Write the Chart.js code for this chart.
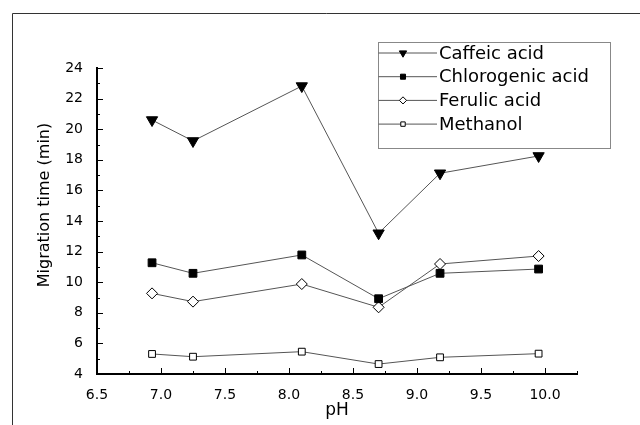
<!DOCTYPE html>
<html>
<head>
<meta charset="utf-8">
<script src="https://cdn.jsdelivr.net/npm/chart.js@4/dist/chart.umd.min.js"></script>
<style>
  body { margin: 0; background: #fff; }
  canvas { display: block; }
</style>
</head>
<body>
<canvas id="graf" width="640" height="425"></canvas>
<script>
// pH-värden (x) och migrationstider (min)
const pH = [6.93, 7.25, 8.1, 8.7, 9.18, 9.95];
const caffeic = [20.6, 19.23, 22.82, 13.2, 17.12, 18.25];
const chlorogenic = [11.27, 10.58, 11.78, 8.92, 10.58, 10.86];
const ferulic = [9.27, 8.73, 9.88, 8.36, 11.19, 11.71];
const methanol = [5.31, 5.13, 5.46, 4.65, 5.09, 5.33];

const xTicks = [6.5, 7.0, 7.5, 8.0, 8.5, 9.0, 9.5, 10.0];
const yTicks = [4, 6, 8, 10, 12, 14, 16, 18, 20, 22, 24];
const yTitle = 'Migration time (min)';

const graf = document.querySelector('#graf');
const font = 'DejaVu Sans';

const pts = arr => arr.map((y, i) => ({ x: pH[i], y }));

function serie(label, data, style, radius, filled, rotation) {
    return {
        label,
        data: pts(data),
        borderColor: '#555',
        borderWidth: 1,
        pointStyle: style,
        pointRadius: radius,
        pointRotation: rotation || 0,
        pointBorderColor: '#000',
        pointBorderWidth: 1,
        pointBackgroundColor: filled ? '#000' : '#fff',
        fill: false,
        tension: 0
    };
}

// Ram, y-titel, tickmarkeringar inåt och legend i rutan
const extras = {
    id: 'extras',
    beforeDraw(chart) {
        const ctx = chart.ctx;
        ctx.save();
        ctx.strokeStyle = '#333';
        ctx.lineWidth = 1;
        ctx.beginPath();
        ctx.moveTo(12.5, 425);
        ctx.lineTo(12.5, 13.5);
        ctx.lineTo(640, 13.5);
        ctx.stroke();

        ctx.translate(45, 205);
        ctx.rotate(-Math.PI / 2);
        ctx.font = '16px "' + font + '"';
        ctx.textAlign = 'center';
        ctx.textBaseline = 'middle';
        ctx.fillStyle = '#000';
        ctx.fillText(yTitle, 0, 0);
        ctx.restore();
    },
    afterDraw(chart) {
        const ctx = chart.ctx;
        const { x, y } = chart.scales;
        const area = chart.chartArea;
        ctx.save();
        ctx.strokeStyle = '#000';
        ctx.lineWidth = 1;
        ctx.beginPath();
        for (let v = 6.5; v <= 10.25 + 1e-9; v += 0.25) {
            const px = Math.round(x.getPixelForValue(v)) + 0.5;
            const major = Math.abs(v * 2 - Math.round(v * 2)) < 1e-9;
            ctx.moveTo(px, area.bottom);
            ctx.lineTo(px, area.bottom - (major ? 6 : 3));
        }
        for (let v = 4; v <= 24; v += 1) {
            const py = Math.round(y.getPixelForValue(v)) + 0.5;
            ctx.moveTo(area.left, py);
            ctx.lineTo(area.left + (v % 2 === 0 ? 6 : 3), py);
        }
        ctx.stroke();

        // Legend
        const box = { left: 378.5, top: 42.5, right: 610.5, bottom: 148.5 };
        ctx.strokeStyle = '#888';
        ctx.strokeRect(box.left, box.top, box.right - box.left, box.bottom - box.top);
        ctx.font = '18px "' + font + '"';
        ctx.textBaseline = 'middle';
        chart.data.datasets.forEach((ds, i) => {
            const ly = 53 + i * 23.7;
            ctx.strokeStyle = '#555';
            ctx.beginPath();
            ctx.moveTo(box.left, ly);
            ctx.lineTo(437, ly);
            ctx.stroke();
            ctx.strokeStyle = '#000';
            ctx.fillStyle = ds.pointBackgroundColor;
            Chart.helpers.drawPoint(ctx, {
                pointStyle: ds.pointStyle,
                radius: ds.pointRadius * 0.65,
                rotation: ds.pointRotation,
                borderWidth: 1
            }, 403, ly);
            ctx.fillStyle = '#000';
            ctx.fillText(ds.label, 439, ly + 1);
        });
        ctx.restore();
    }
};

new Chart(graf, {
    type: 'line',
    data: {
        datasets: [
            serie('Caffeic acid', caffeic, 'triangle', 6.5, true, 180),
            serie('Chlorogenic acid', chlorogenic, 'rect', 5.5, true),
            serie('Ferulic acid', ferulic, 'rectRot', 5.5, false),
            serie('Methanol', methanol, 'rect', 4.8, false)
        ]
    },
    options: {
        responsive: false,
        animation: false,
        layout: { padding: { left: 0, top: 68, right: 63, bottom: 0 } },
        plugins: { legend: { display: false }, tooltip: { enabled: false } },
        scales: {
            x: {
                type: 'linear',
                min: 6.5,
                max: 10.25,
                afterBuildTicks: s => { s.ticks = xTicks.map(v => ({ value: v })); },
                afterFit: s => { s.height = 51; },
                grid: { display: false },
                border: { display: true, color: '#000', width: 2 },
                ticks: {
                    padding: 5,
                    color: '#000',
                    font: { family: font, size: 14 },
                    callback: v => v.toFixed(1)
                },
                title: {
                    display: true,
                    text: 'pH',
                    color: '#000',
                    font: { family: font, size: 17 },
                    padding: { top: 0, bottom: 4 }
                }
            },
            y: {
                min: 4,
                max: 24,
                afterBuildTicks: s => { s.ticks = yTicks.map(v => ({ value: v })); },
                afterFit: s => { s.width = 97; },
                grid: { display: false },
                border: { display: true, color: '#000', width: 2 },
                ticks: {
                    padding: 6,
                    color: '#000',
                    font: { family: font, size: 14 }
                }
            }
        }
    },
    plugins: [extras]
});
</script>
</body>
</html>
